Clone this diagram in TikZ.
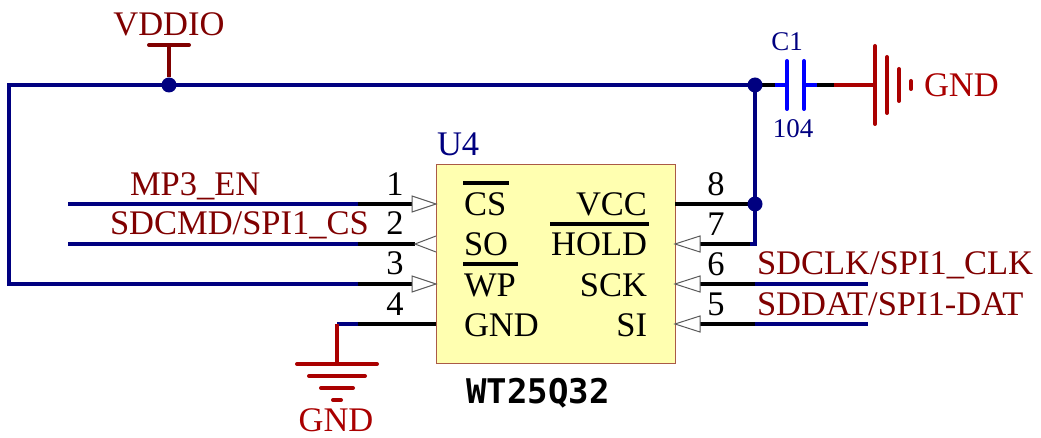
\documentclass[tikz,border=0pt]{standalone}
\usepackage{fontspec}
\setmainfont{Liberation Serif}
\newfontfamily\partfont[Scale=1]{DejaVu Sans Mono}
\usepackage{tikz}

\definecolor{wireColor}{RGB}{0,0,128}
\definecolor{capColor}{RGB}{0,0,255}
\definecolor{powerColor}{RGB}{170,0,0}
\definecolor{netColor}{RGB}{128,0,0}
\definecolor{refColor}{RGB}{0,0,128}
\definecolor{chipColor}{RGB}{255,255,176}
\definecolor{chipEdge}{RGB}{170,90,70}
\definecolor{tipColor}{RGB}{90,90,90}

\tikzset{
  wire/.style={draw=wireColor,line width=4pt,line join=miter},
  pinline/.style={draw=black,line width=4pt},
  power/.style={draw=powerColor,line width=4pt,line cap=round},
  capline/.style={draw=capColor,line width=4pt},
  plate/.style={draw=capColor,line width=4pt,line cap=round},
  overbar/.style={draw=black,line width=3.5pt},
  pintip/.style={draw=tipColor,line width=1pt,fill=white,line join=miter},
  dot/.style={circle,fill=wireColor,inner sep=0pt,outer sep=0pt,minimum size=15pt},
  lbl/.style={inner sep=0pt,outer sep=0pt,font=\fontsize{34.5}{34.5}\selectfont},
  small/.style={inner sep=0pt,outer sep=0pt,font=\fontsize{27}{27}\selectfont,text=refColor},
}

\begin{document}
\begin{tikzpicture}[x=1pt,y=-1pt]
\path[use as bounding box,fill=white] (0,0) rectangle (1041,438);

% chip body
\path[draw=chipEdge,line width=1pt,fill=chipColor] (436,165) rectangle (675,363);
\node[lbl,text=refColor,anchor=base west] (U4) at (437,156) {U4};
\node[inner sep=0pt,outer sep=0pt,anchor=base,text=black,font=\partfont\bfseries\fontsize{34}{34}\selectfont] (WT) at (538,403) {WT25Q32};

% pin names
\node[lbl,anchor=base west] (nCS) at (464,216) {CS};
\node[lbl,anchor=base west] (nSO) at (464,256) {SO};
\node[lbl,anchor=base west] (nWP) at (464,296) {WP};
\node[lbl,anchor=base west] (nGND) at (464,336) {GND};
\node[lbl,anchor=base east] (nVCC) at (647,216) {VCC};
\node[lbl,anchor=base east] (nHOLD) at (647,256) {HOLD};
\node[lbl,anchor=base east] (nSCK) at (647,296) {SCK};
\node[lbl,anchor=base east] (nSI) at (647,336) {SI};
\path[overbar] (463,183) -- (509,183);
\path[overbar] (463,264) -- (518,264);
\path[overbar] (550,224) -- (649,224);

% pin numbers
\foreach \num/\px/\py in {1/395/196,2/395/235,3/395/275,4/395/315,8/716/196,7/716/236,6/716/276,5/716/315}
  \node[lbl,anchor=base] (num\num) at (\px,\py) {\num};

% net ends
\coordinate (en) at (68,204);
\coordinate (cmd) at (68,244);
\coordinate (corner) at (9,284);
\coordinate (top) at (9,85);
\coordinate (topj) at (169,85);
\coordinate (vddtop) at (169,45);
\coordinate (gndL) at (337,324);
\coordinate (gndB) at (337,364);
\coordinate (clk) at (868,284);
\coordinate (dat) at (868,324);
\coordinate (capL) at (787,85);
\coordinate (capR) at (804,85);
\coordinate (gndR) at (875,85);

% wires
\path[wire] (358,204) -- (en);
\path[wire] (358,244) -- (cmd);
\path[wire] (358,284) -- (corner) -- (top) -- (755,85);
\path[wire] (358,324) -- (gndL);
\path[wire] (755,85) -- (755,244) -- (698,244);
\path[wire] (755,284) -- (clk);
\path[wire] (755,324) -- (dat);

% pin stubs
\path[pinline] (358,204) -- (412,204);
\path[pinline] (358,244) -- (415,244);
\path[pinline] (358,284) -- (412,284);
\path[pinline] (358,324) -- (436,324);
\path[pinline] (675,204) -- (755,204);
\path[pinline] (700,244) -- (750,244);
\path[pinline] (700,284) -- (755,284);
\path[pinline] (700,324) -- (755,324);
\path[pinline] (755,85) -- (775,85);
\path[pinline] (817,85) -- (834,85);

% pin tips
\foreach \py in {204,284}
  \path[pintip] (412,\py-8) -- (436,\py) -- (412,\py+8) -- cycle;
\path[pintip] (436,236) -- (415,244) -- (436,252);
\foreach \py in {244,284,324}
  \path[pintip] (700,\py-8) -- (675,\py) -- (700,\py+8) -- cycle;

% junctions
\node[dot] (j1) at (topj) {};
\node[dot] (j2) at (755,85) {};
\node[dot] (j3) at (755,204) {};

% VDDIO
\path[draw=netColor,line width=4pt] (j1) -- (vddtop);
\path[draw=netColor,line width=4pt,line cap=round] (149,45) -- (189,45);
\node[lbl,text=netColor,anchor=base] (VDDIO) at (169,36) {VDDIO};

% lower GND
\path[power,line cap=butt] (gndL) -- (gndB);
\path[power] (297,364) -- (377,364);
\path[power] (309,376) -- (365,376);
\path[power] (321,388) -- (353,388);
\path[power] (333,400) -- (341,400);
\node[lbl,text=powerColor,anchor=base] (GND1) at (336,431) {GND};

% C1
\path[capline] (775,85) -- (capL);
\path[capline] (capR) -- (817,85);
\path[plate] (capL) ++(0,-24) -- ++(0,48);
\path[plate] (capR) ++(0,-24) -- ++(0,48);
\node[small,anchor=base] (C1) at (787,51) {C1};
\node[small,anchor=base] (val) at (793,138) {104};

% right GND
\path[power,line cap=butt] (834,85) -- (gndR);
\path[power] (875,46) -- (875,124);
\path[power] (887,57) -- (887,113);
\path[power] (899,69) -- (899,101);
\path[power] (911,81) -- (911,89);
\node[lbl,text=powerColor,anchor=base west] (GND2) at (924,97) {GND};

% net names
\node[lbl,text=netColor,anchor=base west] (netEN) at (130,196) {MP3\_EN};
\node[lbl,text=netColor,anchor=base west] (netCMD) at (110,235) {SDCMD/SPI1\_CS};
\node[lbl,text=netColor,anchor=base west] (netCLK) at (757,275) {SDCLK/SPI1\_CLK};
\node[lbl,text=netColor,anchor=base west] (netDAT) at (757,315) {SDDAT/SPI1-DAT};
\end{tikzpicture}
\end{document}
